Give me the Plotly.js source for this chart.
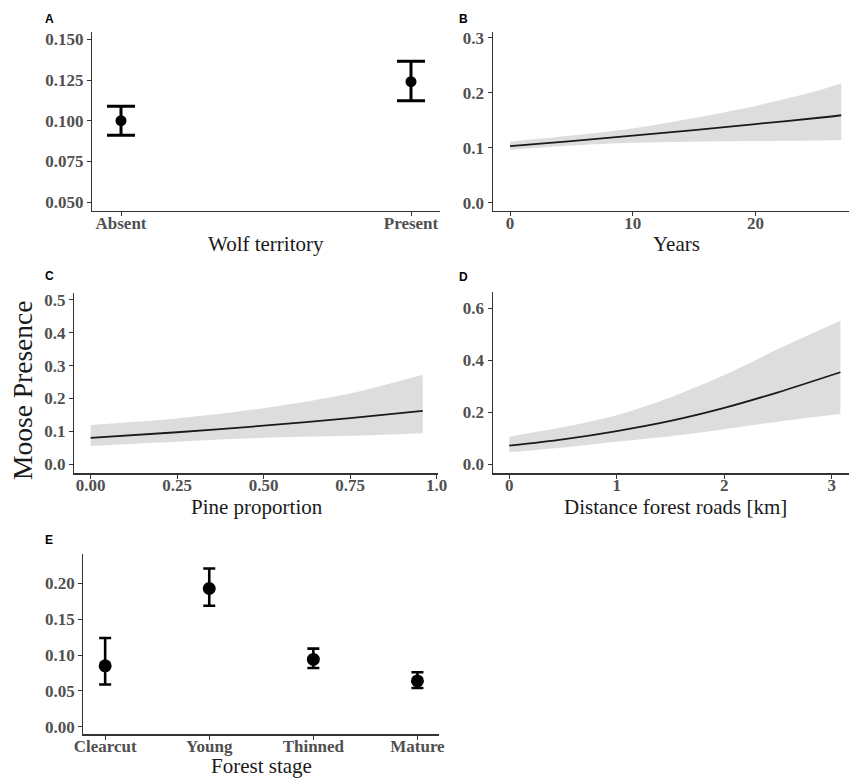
<!DOCTYPE html>
<html>
<head>
<meta charset="utf-8">
<script src="https://cdn.plot.ly/plotly-3.0.1.min.js"></script>
<style>html,body{margin:0;padding:0;background:#fff;}#chart{width:849px;height:778px;}</style>
</head>
<body>
<div id="chart"></div>
<script>
// ---- Data ----
// Panel A: wolf territory
const wolfCats = ["Absent", "Present"];
const wolfMean = [0.100, 0.124];
const wolfUpper = [0.1088, 0.1365];
const wolfLower = [0.0910, 0.1123];

// Panel B: years
const yearsX = [0, 5, 10, 15, 20, 25, 27];
const yearsFit = [0.103, 0.112, 0.122, 0.132, 0.143, 0.154, 0.159];
const yearsUpper = [0.111, 0.122, 0.135, 0.154, 0.176, 0.203, 0.217];
const yearsLower = [0.096, 0.104, 0.109, 0.111, 0.112, 0.113, 0.114];

// Panel C: pine proportion
const pineX = [0, 0.25, 0.5, 0.75, 0.96];
const pineFit = [0.080, 0.097, 0.117, 0.140, 0.162];
const pineUpper = [0.119, 0.139, 0.170, 0.215, 0.272];
const pineLower = [0.055, 0.068, 0.080, 0.086, 0.094];

// Panel D: distance to forest roads
const roadX = [0, 0.5, 1, 1.5, 2, 2.5, 3.08];
const roadFit = [0.0715, 0.096, 0.128, 0.167, 0.217, 0.277, 0.354];
const roadUpper = [0.106, 0.143, 0.189, 0.257, 0.343, 0.443, 0.552];
const roadLower = [0.047, 0.065, 0.087, 0.108, 0.135, 0.164, 0.193];

// Panel E: forest stage
const stageCats = ["Clearcut", "Young", "Thinned", "Mature"];
const stageMean = [0.085, 0.193, 0.094, 0.064];
const stageUpper = [0.124, 0.221, 0.109, 0.076];
const stageLower = [0.059, 0.169, 0.082, 0.054];

// ---- Layout helpers ----
const W = 849, H = 778;
const px = v => v / W;
const py = v => 1 - v / H;
const BAND = "rgb(221,221,221)";

function errTrace(cats, mean, up, lo, xa, ya, thick, capw, msize) {
  return {
    type: "scatter", mode: "markers", x: cats, y: mean, xaxis: xa, yaxis: ya,
    marker: {color: "#000", size: msize},
    error_y: {type: "data", symmetric: false,
      array: up.map((u, i) => u - mean[i]),
      arrayminus: lo.map((l, i) => mean[i] - l),
      color: "#000", thickness: thick, width: capw},
    hoverinfo: "skip", showlegend: false
  };
}
function bandTraces(x, fit, up, lo, xa, ya) {
  return [
    {type: "scatter", mode: "lines", x: x, y: lo, xaxis: xa, yaxis: ya,
     line: {width: 0, shape: "spline", smoothing: 0.8}, hoverinfo: "skip", showlegend: false},
    {type: "scatter", mode: "lines", x: x, y: up, xaxis: xa, yaxis: ya,
     line: {width: 0, shape: "spline", smoothing: 0.8}, fill: "tonexty", fillcolor: BAND,
     hoverinfo: "skip", showlegend: false},
    {type: "scatter", mode: "lines", x: x, y: fit, xaxis: xa, yaxis: ya,
     line: {color: "#1a1a1a", width: 1.8, shape: "spline", smoothing: 0.8}, hoverinfo: "skip", showlegend: false}
  ];
}

const data = [
  errTrace(wolfCats, wolfMean, wolfUpper, wolfLower, "x", "y", 3, 14, 11),
  ...bandTraces(yearsX, yearsFit, yearsUpper, yearsLower, "x2", "y2"),
  ...bandTraces(pineX, pineFit, pineUpper, pineLower, "x3", "y3"),
  ...bandTraces(roadX, roadFit, roadUpper, roadLower, "x4", "y4"),
  errTrace(stageCats, stageMean, stageUpper, stageLower, "x5", "y5", 2.6, 6, 13)
];

const tickFont = {family: "'Liberation Serif', 'Times New Roman', serif", size: 17, color: "#505050", weight: "bold"};
function ax(extra) {
  return Object.assign({
    showline: true, linecolor: "#333", linewidth: 1.2, mirror: false,
    ticks: "outside", ticklen: 4, tickwidth: 1, tickcolor: "#333",
    showgrid: false, zeroline: false, tickfont: tickFont, fixedrange: true
  }, extra);
}
function xax(extra) { return ax(Object.assign({ticklabelstandoff: -8}, extra)); }

const titleFont = {family: "'Liberation Serif', 'Times New Roman', serif", size: 21, color: "#1a1a1a"};
const letterFont = {family: "'Liberation Sans', Arial, sans-serif", size: 12, color: "#000", weight: "bold"};
function ann(text, x, y, font, extra) {
  return Object.assign({text: text, x: px(x), y: py(y), xref: "paper", yref: "paper",
    showarrow: false, xanchor: "center", yanchor: "middle", font: font}, extra || {});
}

const layout = {
  width: W, height: H, margin: {l: 0, r: 0, t: 0, b: 0},
  paper_bgcolor: "#fff", plot_bgcolor: "#fff", showlegend: false,
  // Panel A
  xaxis: xax({domain: [px(92), px(440)], anchor: "y", type: "category", range: [-0.1, 1.1]}),
  yaxis: ax({domain: [py(211), py(32)], anchor: "x", range: [0.0445, 0.1545],
    tickvals: [0.05, 0.075, 0.1, 0.125, 0.15], tickformat: ".3f"}),
  // Panel B
  xaxis2: xax({domain: [px(492.7), 1], anchor: "y2", range: [-1.41, 27.63], tickvals: [0, 10, 20]}),
  yaxis2: ax({domain: [py(211), py(32)], anchor: "x2", range: [-0.0151, 0.3104],
    tickvals: [0, 0.1, 0.2, 0.3], tickformat: ".1f"}),
  // Panel C
  xaxis3: xax({domain: [px(74), px(438.3)], anchor: "y3", range: [-0.048, 1.005],
    tickvals: [0, 0.25, 0.5, 0.75, 1.0], ticktext: ["0.00", "0.25", "0.50", "0.75", "1.0"]}),
  yaxis3: ax({domain: [py(473.3), py(292.7)], anchor: "x3", range: [-0.028, 0.522],
    tickvals: [0, 0.1, 0.2, 0.3, 0.4, 0.5], tickformat: ".1f"}),
  // Panel D
  xaxis4: xax({domain: [px(492.7), 1], anchor: "y4", range: [-0.154, 3.16], tickvals: [0, 1, 2, 3]}),
  yaxis4: ax({domain: [py(473.3), py(292.3)], anchor: "x4", range: [-0.0346, 0.6615],
    tickvals: [0, 0.2, 0.4, 0.6], tickformat: ".1f"}),
  // Panel E
  xaxis5: xax({domain: [px(83.3), px(439.3)], anchor: "y5", type: "category", range: [-0.21, 3.21]}),
  yaxis5: ax({domain: [py(734.3), py(554.3)], anchor: "x5", range: [-0.0106, 0.2408],
    tickvals: [0, 0.05, 0.1, 0.15, 0.2], tickformat: ".2f"}),
  annotations: [
    ann("A", 49, 19, letterFont), ann("B", 463, 19, letterFont),
    ann("C", 49, 276, letterFont), ann("D", 463, 277, letterFont),
    ann("E", 49, 540, letterFont),
    ann("Wolf territory", 266, 244, titleFont),
    ann("Years", 676, 244, titleFont),
    ann("Pine proportion", 256.5, 507, titleFont),
    ann("Distance forest roads [km]", 675, 507, titleFont),
    ann("Forest stage", 261.5, 766, titleFont),
    ann("Moose Presence", 22, 391,
      {family: "'Liberation Serif', 'Times New Roman', serif", size: 27.5, color: "#1a1a1a"},
      {textangle: -90})
  ]
};

Plotly.newPlot("chart", data, layout, {staticPlot: true, displayModeBar: false});
</script>
</body>
</html>
